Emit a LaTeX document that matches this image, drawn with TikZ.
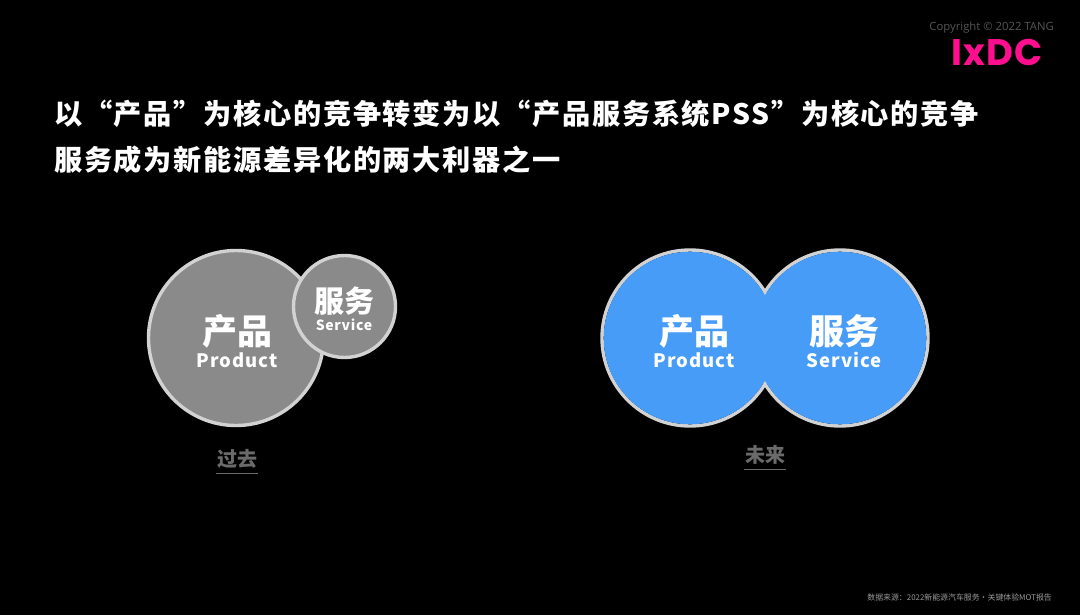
\documentclass[tikz,border=0pt]{standalone}
\usepackage{fontspec}
\setmainfont{Noto Sans CJK SC}
\newfontfamily\logofont{Poppins}
\newfontfamily\notefont{Open Sans}
\usepackage{tikz}
\usetikzlibrary{positioning,calc}
\definecolor{ringgray}{HTML}{D2D2D2}
\definecolor{bubblegray}{HTML}{8A8A8A}
\definecolor{bubbleblue}{HTML}{479CF7}
\definecolor{logopink}{HTML}{FF0F8F}
\definecolor{captiongray}{HTML}{6A6A6A}
\definecolor{copygray}{HTML}{555555}
\tikzset{
    bubble/.style = {circle, draw=ringgray, line width=3.4pt, inner sep=0pt},
    core/.style = {circle, inner sep=0pt, fill=bubbleblue},
    headline/.style = {anchor=west, inner sep=0pt, text=white, font=\fontsize{28.2}{30}\selectfont\bfseries\addfontfeature{LetterSpace=6}},
    cnlabel/.style = {inner sep=0pt, text=white, font=\fontsize{35}{36}\selectfont\bfseries},
    cnsmall/.style = {inner sep=0pt, text=white, font=\fontsize{30}{32}\selectfont\bfseries},
    enlabel/.style = {inner sep=0pt, text=white, font=\fontsize{18.5}{20}\selectfont\bfseries\addfontfeature{LetterSpace=5}},
    ensmall/.style = {inner sep=0pt, text=white, font=\fontsize{14}{16}\selectfont\bfseries\addfontfeature{LetterSpace=5}},
    caption/.style = {inner sep=0pt, text=captiongray, font=\fontsize{20}{22}\selectfont\bfseries},
    rule/.style = {draw=captiongray, line width=0.8pt},
}
\begin{document}
\begin{tikzpicture}[x=1pt, y=-1pt]
    \fill[black] (0,0) rectangle (1080,615);
    \useasboundingbox (0,0) rectangle (1080,615);

    % Logo and copyright
    \node[inner sep=0pt, anchor=east, text=copygray, font=\notefont\fontsize{11.3}{13}\selectfont] (copy) at (1054,28) {Copyright © 2022 TANG};
    \node[inner sep=0pt, anchor=east, text=logopink, font=\logofont\fontsize{37}{38}\selectfont\bfseries\addfontfeature{LetterSpace=3}] (logo) at (1043,52) {IxDC};

    % Headline
    \node[headline] (title) at (54,114) {以“产品”为核心的竞争转变为以“产品服务系统PSS”为核心的竞争};
    \node[headline] (subtitle) at (54,160) {服务成为新能源差异化的两大利器之一};

    % Past: large product, small service
    \node[bubble, fill=bubblegray, minimum size=175pt] (pastP) at (236,338) {};
    \node[bubble, fill=bubblegray, minimum size=102pt] (pastS) at (344.5,306.5) {};
    \node[cnlabel] (pastPcn) at (237,331) {产品};
    \node[enlabel] (pastPen) at (237,360) {Product};
    \node[cnsmall] (pastScn) at (344,301) {服务};
    \node[ensmall] (pastSen) at (344,325) {Service};

    % Future: two equal circles merged
    \node[bubble, minimum size=176pt] (futP) at (690,338) {};
    \node[bubble, minimum size=176pt] (futS) at (840,338) {};
    \node[core, minimum size=172.6pt] (futPcore) at (futP) {};
    \node[core, minimum size=172.6pt] (futScore) at (futS) {};
    \node[cnlabel] (futPcn) at (694,331) {产品};
    \node[enlabel] (futPen) at (694,360) {Product};
    \node[cnlabel] (futScn) at (844,331) {服务};
    \node[enlabel] (futSen) at (844,360) {Service};

    % Captions
    \node[caption] (past) at (237,459) {过去};
    \node[caption] (future) at (765,455) {未来};
    \coordinate[below=14pt of past.center] (pastrule);
    \coordinate[below=14pt of future.center] (futurerule);
    \draw[rule] ($(pastrule)+(-21,0)$) -- ($(pastrule)+(21,0)$);
    \draw[rule] ($(futurerule)+(-21,0)$) -- ($(futurerule)+(21,0)$);

    % Source
    \node[inner sep=0pt, anchor=east, text=white!60!black, font=\fontsize{7.9}{9}\selectfont] (source) at (1052,598) {数据来源：2022新能源汽车服务·关键体验MOT报告};
\end{tikzpicture}
\end{document}
